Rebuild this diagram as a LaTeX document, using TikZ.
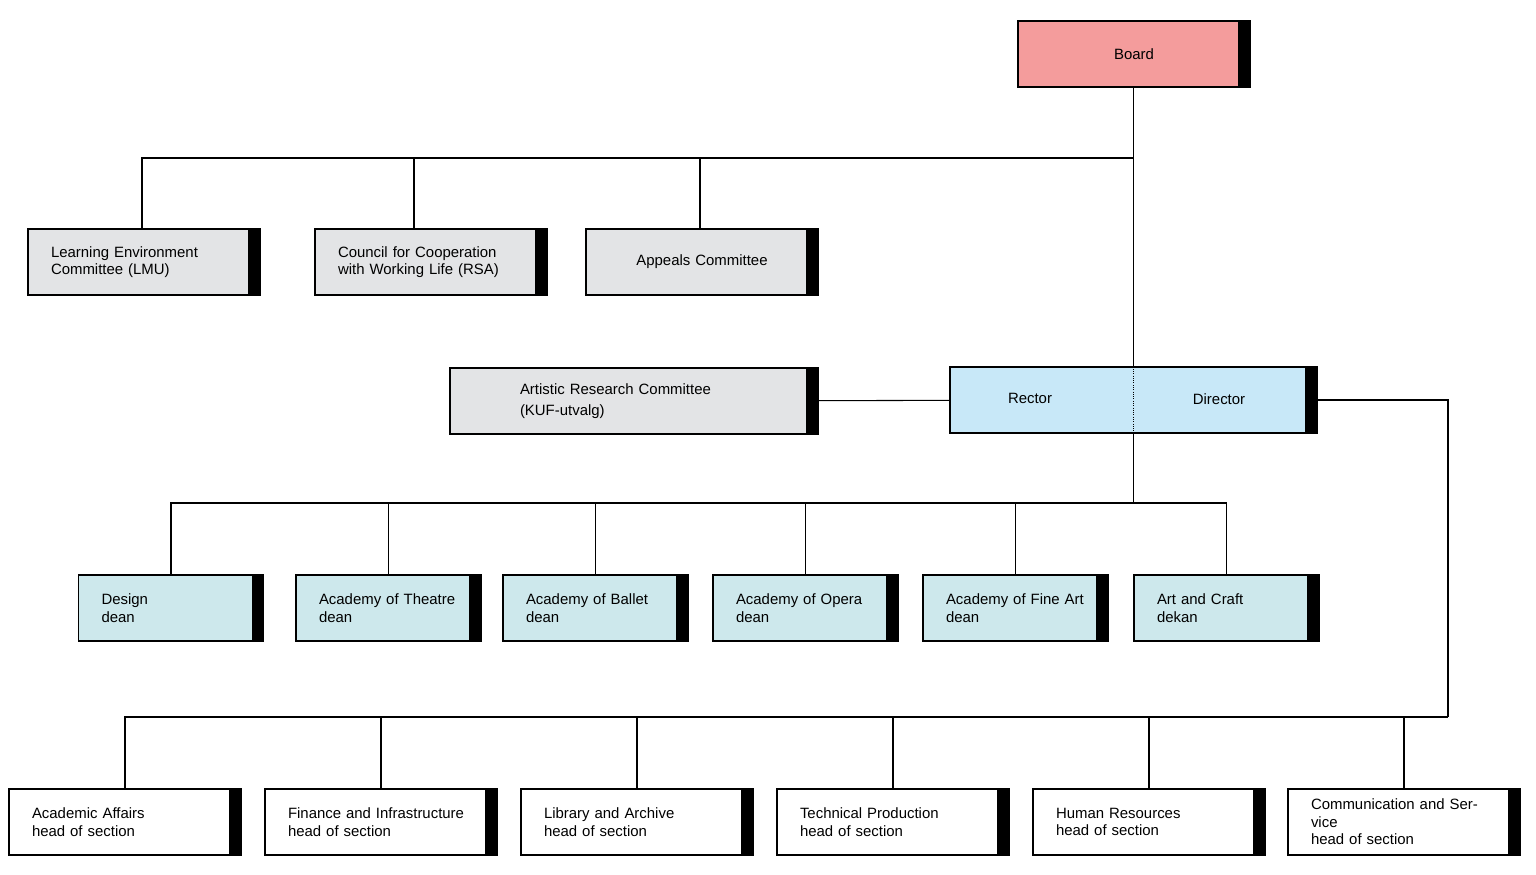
\documentclass[tikz,border=0pt]{standalone}
\usepackage{fontspec}
\setmainfont{Liberation Sans}
\usetikzlibrary{positioning}

\definecolor{boardred}{HTML}{F49C9C}
\definecolor{cmtgray}{HTML}{E3E4E6}
\definecolor{rectblue}{HTML}{C8E8F8}
\definecolor{deanblue}{HTML}{CDE8EC}

\tikzset{
  box/.style={rectangle, draw=black, line width=0.6pt, minimum height=1.32cm, align=left,
    text width=#1, inner xsep=0.46cm, font=\fontsize{8.5}{10}\selectfont,
    path picture={\fill[black] (path picture bounding box.north east) rectangle ([xshift=-0.24cm]path picture bounding box.south east);}},
  board/.style={box=3.72cm, fill=boardred, align=center},
  committee/.style={box=3.72cm, fill=cmtgray},
  dean/.style={box=2.78cm, fill=deanblue},
  section/.style={box=3.72cm, fill=white},
  line/.style={line width=0.6pt}
}

\begin{document}
\begin{tikzpicture}
	\useasboundingbox (0,0) rectangle (30.72,-17.48);
	% Place nodes
	\node [board] (Board) at (22.68,-1.08) {Board};
	\node [committee] (LMU) at (2.88,-5.24) {Learning Environment\\Committee (LMU)};
	\node [committee] (RSA) at (8.62,-5.24) {Council for Cooperation\\with Working Life (RSA)};
	\node [committee, align=center] (Appeals) at (14.04,-5.24) {Appeals Committee};
	\node [committee, text width=4.56cm, inner xsep=1.4cm] (KUF) at (12.68,-8.02) {Artistic Research Committee\\[2pt](KUF-utvalg)};
	\node [box=6.42cm, fill=rectblue] (Rector) at (22.67,-8.0) {};
	\draw [densely dotted, line width=0.3pt] (Rector.north) -- (Rector.south);
	\node [font=\fontsize{8.5}{10}\selectfont] at (20.6,-7.96) {Rector};
	\node [font=\fontsize{8.5}{10}\selectfont] at (24.38,-7.98) {Director};

	\node [dean] (Design) at (3.42,-12.16) {Design\\dean};
	\node [dean] (Theatre) at (7.77,-12.16) {Academy of Theatre\\dean};
	\node [dean] (Ballet) at (11.91,-12.16) {Academy of Ballet\\dean};
	\node [dean] (Opera) at (16.11,-12.16) {Academy of Opera\\dean};
	\node [dean] (FineArt) at (20.31,-12.16) {Academy of Fine Art\\dean};
	\node [dean] (Craft) at (24.53,-12.16) {Art and Craft\\dekan};

	\node [section] (Academic) at (2.5,-16.44) {Academic Affairs\\head of section};
	\node [section] (Finance) at (7.62,-16.44) {Finance and Infrastructure\\head of section};
	\node [section] (Library) at (12.74,-16.44) {Library and Archive\\head of section};
	\node [section] (Technical) at (17.86,-16.44) {Technical Production\\head of section};
	\node [section] (HR) at (22.98,-16.44) {Human Resources\\head of section};
	\node [section] (Communication) at (28.08,-16.44) {Communication and Service\\head of section};

	\coordinate (BoardBus) at (22.67,-3.16);
	\coordinate (DeanBus) at (22.67,-10.06);
	\coordinate (SectionBus) at (28.96,-14.34);
	% Draw edges
	\draw [line] (Board.south -| Rector.north) -- (Rector.north);
	\draw [line] ([xshift=-0.04cm]LMU.north) |- (BoardBus);
	\draw [line] ([xshift=-0.34cm]RSA.north) |- (BoardBus);
	\draw [line] ([xshift=-0.04cm]Appeals.north) |- (BoardBus);
	\draw [line] (KUF) -- (Rector);
	\draw [line] (Rector.south) -- (DeanBus);
	\foreach \d in {Design,Theatre,Ballet,Opera,FineArt,Craft}
		\draw [line] (\d.north) |- (DeanBus);
	\draw [line] (Rector.east) -| (SectionBus);
	\foreach \s in {Academic,Finance,Library,Technical,HR,Communication}
		\draw [line] (\s.north) |- (SectionBus);
\end{tikzpicture}
\end{document}
